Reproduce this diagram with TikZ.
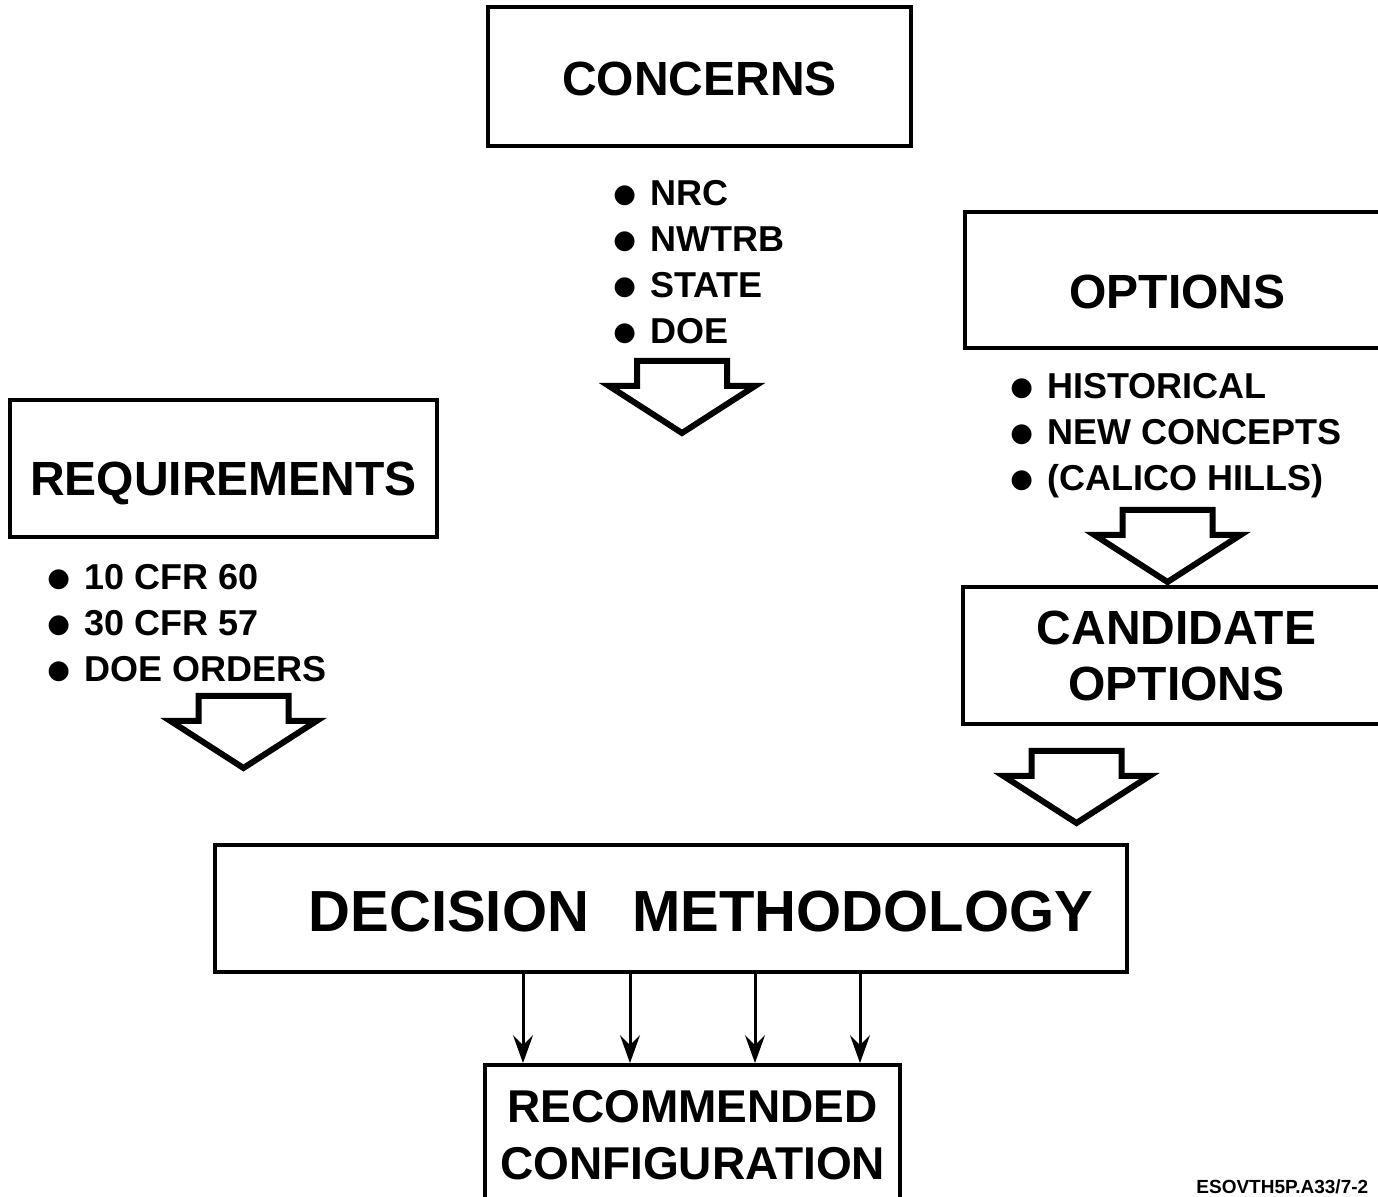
\documentclass[tikz,border=0pt]{standalone}
\usepackage{fontspec}
\setmainfont{Liberation Sans}
\newfontfamily\symfont{DejaVu Sans}
\usetikzlibrary{arrows.meta}
% large round bullet for the item lists
\newcommand{\blt}{\raisebox{1.6pt}{\symfont\fontsize{13}{13}\selectfont ●}\hspace{7pt}}
% title set lower inside its box, keeping the box size unchanged
\newcommand{\lowered}[2]{\raisebox{-#1}[\height][0pt]{#2}}

\begin{document}
\begin{tikzpicture}[x=0.5pt,y=-0.5pt,
  box/.style={draw, line width=1.9pt, inner sep=0pt, align=center,
              font=\bfseries\fontsize{24}{28}\selectfont},
  items/.style={inner sep=0pt, anchor=west, align=left,
              font=\bfseries\fontsize{18}{23}\selectfont},
  conn/.style={line width=1.5pt, -{Stealth[length=14pt,width=10pt,inset=5pt]}},
  blockarrow/.pic={\draw[line width=3pt, line join=miter]
      (-45,0) -- (45,0) -- (45,25) -- (73,25) -- (0,72) -- (-73,25) -- (-45,25) -- cycle;}
]
\useasboundingbox (0,0) rectangle (1378,1197);
\clip (0,0) rectangle (1378,1197);

% main boxes
\node[box, minimum width=211.5pt, minimum height=69.5pt] (concerns) at (699.5,76.5) {\lowered{1pt}{CONCERNS}};
\node[box, minimum width=212.5pt, minimum height=68pt] (options) at (1177.5,280) {\lowered{6pt}{OPTIONS}};
\node[box, minimum width=213.5pt, minimum height=68.5pt] (req) at (223.5,468.5) {\lowered{5pt}{REQUIREMENTS}};
\node[box, minimum width=213.5pt, minimum height=68.5pt] (cand) at (1176.5,655.5) {CANDIDATE\\OPTIONS};
\node[box, minimum width=456pt, minimum height=63.5pt,
      font=\bfseries\fontsize{29}{32}\selectfont] (dm) at (671,908.5)
      {\lowered{1.5pt}{\hspace*{30pt}DECISION\hspace{0.75em}METHODOLOGY}};
\node[box, minimum width=207.5pt, minimum height=70pt,
      font=\bfseries\fontsize{23}{28.5}\selectfont] (rc) at (692.5,1135)
      {RECOMMENDED\\CONFIGURATION};

% bullet lists
\node[items] (clist) at (613,262) {\blt NRC\\\blt NWTRB\\\blt STATE\\\blt DOE};
\node[items] (olist) at (1010,436) {\blt HISTORICAL\\\blt NEW CONCEPTS\\\blt (CALICO HILLS)};
\node[items] (rlist) at (47,623) {\blt 10 CFR 60\\\blt 30 CFR 57\\\blt DOE ORDERS};

% hollow block arrows
\pic at (682,361) {blockarrow};
\pic at (243.5,696) {blockarrow};
\pic at (1167.5,510) {blockarrow};
\pic at (1076.5,751) {blockarrow};

% connectors from the methodology to the configuration
\foreach \xx in {523,630,755,860}
  \draw[conn] (dm.south -| \xx,0) -- (rc.north -| \xx,0);

% drawing tag
\node[anchor=base west, inner sep=0pt, font=\bfseries\fontsize{9.5}{10}\selectfont] (tag)
  at (1196,1194) {ESOVTH5P.A33/7-2};
\end{tikzpicture}
\end{document}
